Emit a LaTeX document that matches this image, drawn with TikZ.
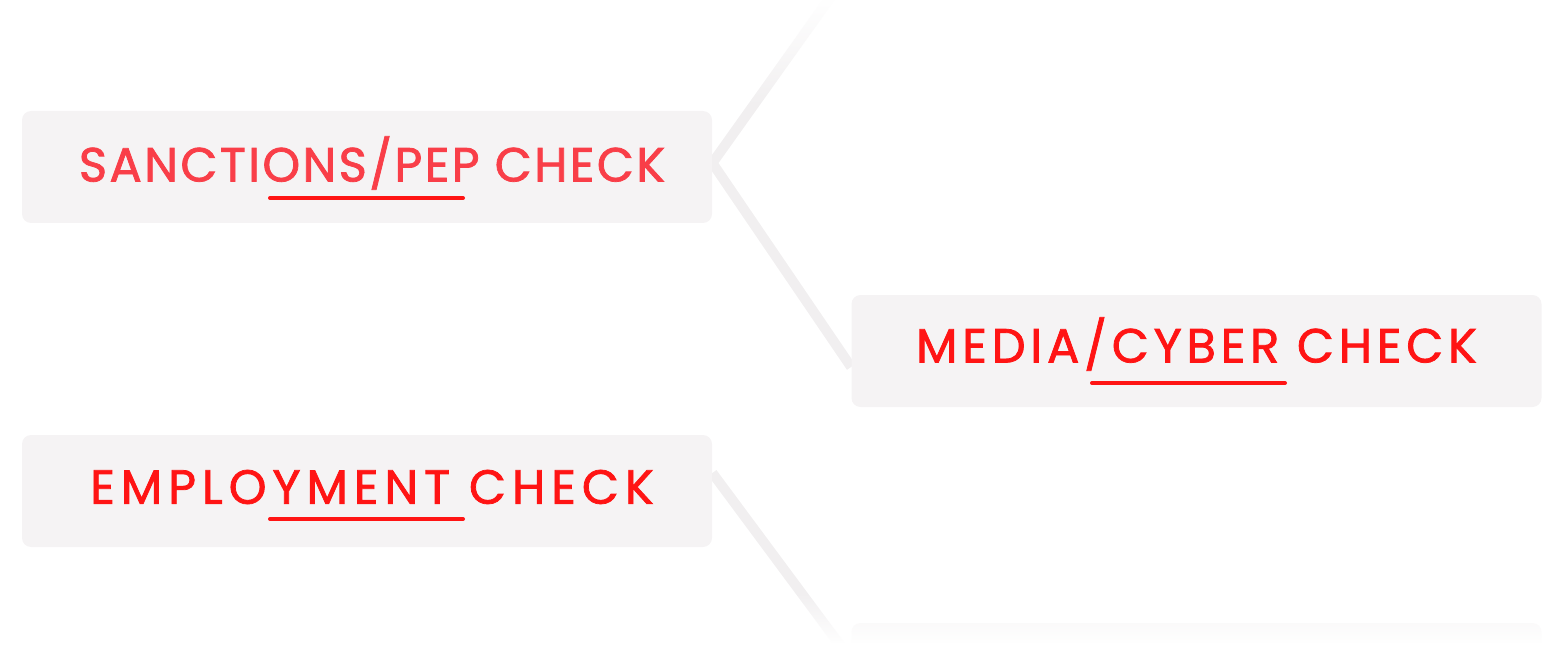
\documentclass[tikz,border=0pt]{standalone}
\usepackage{fontspec}
\setmainfont{Poppins}
\newfontfamily\checkfont[FakeBold=1.6,LetterSpace=5]{Poppins}
\usetikzlibrary{fadings,backgrounds}
\definecolor{boxgray}{RGB}{245,243,244}
\definecolor{linkgray}{RGB}{241,239,240}
\definecolor{checkred}{RGB}{255,20,20}
\definecolor{softred}{RGB}{249,62,72}

\tikzfading[name=fadetop, top color=transparent!0, bottom color=transparent!100]
\tikzfading[name=fadebottom, top color=transparent!100, bottom color=transparent!0]

\begin{document}
\begin{tikzpicture}[x=0.5pt,y=-0.5pt,
    checkbox/.style={fill=boxgray,rounded corners=4.5pt,minimum width=345pt,minimum height=56pt,inner sep=0pt},
    checktext/.style={font=\checkfont\fontsize{24}{28}\selectfont,text=checkred,inner sep=0pt},
    link/.style={draw=linkgray,line width=5pt},
    underbar/.style={draw=checkred,line width=2pt,line cap=round}]
    \useasboundingbox (0,0) rectangle (1560,658);
    \clip (0,0) rectangle (1560,658);

    % Boxes
    \node[checkbox] (sanc) at (367,167) {};
    \node[checkbox] (media) at (1196.5,351) {};
    \node[checkbox] (empl) at (367,491) {};
    \node[checkbox] (next) at (1196.5,679) {};
    \coordinate (above) at (852,-33);

    % Labels
    \node[checktext,text=softred] (sanctext) at ([xshift=2.5pt,yshift=2pt]sanc.center) {SANCTIONS/PEP CHECK};
    \node[checktext] (mediatext) at ([yshift=3.5pt]media.center) {\addfontfeatures{LetterSpace=10}MEDIA/CYBER CHECK};
    \node[checktext] (empltext) at ([xshift=2.5pt,yshift=2pt]empl.center) {\addfontfeatures{LetterSpace=12.5}EMPLOYMENT CHECK};

    % Underlines
    \draw[underbar] ([xshift=-48.5pt,yshift=-15.5pt]sanc.center) -- ++(193,0);
    \draw[underbar] ([xshift=-52.25pt,yshift=-16pt]media.center) -- ++(193,0);
    \draw[underbar] ([xshift=-48.5pt,yshift=-14pt]empl.center) -- ++(193,0);

    % Connectors
    \begin{scope}[on background layer]
        \draw[link] (above) -- ([yshift=2pt]sanc.east) -- ([yshift=-8pt]media.west);
        \draw[link] ([yshift=9pt]empl.east) -- ([yshift=9.5pt]next.west);
    \end{scope}

    % Fade at top and bottom
    \fill[white,path fading=fadetop] (0,-1) rectangle (1560,108);
    \fill[white,path fading=fadebottom] (0,592) rectangle (1560,644);
    \fill[white] (0,643) rectangle (1560,659);
\end{tikzpicture}
\end{document}
